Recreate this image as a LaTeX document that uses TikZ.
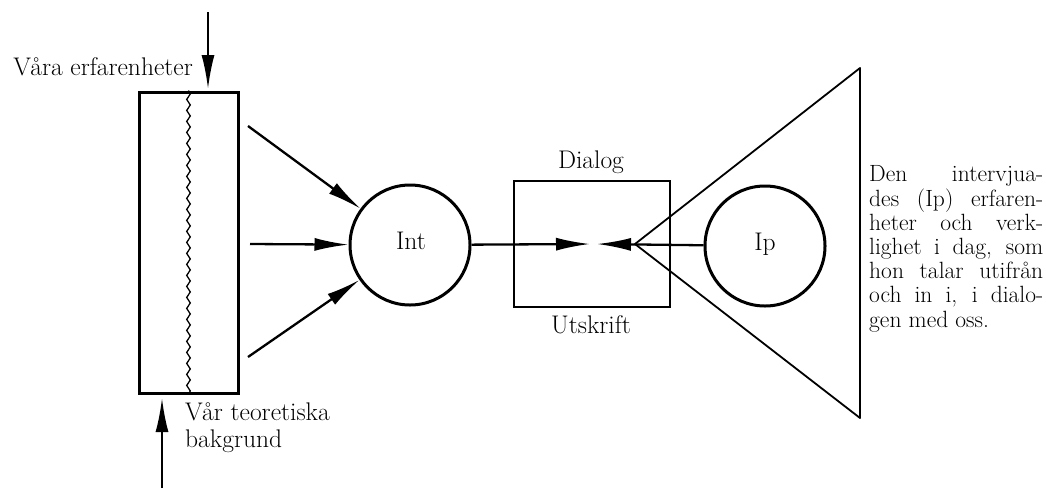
\documentclass[tikz,border=0pt]{standalone}
\usepackage{fontspec}
\usetikzlibrary{arrows.meta,decorations.pathmorphing}
\newcommand{\lblfont}{\fontsize{25.5}{27}\selectfont}
\newcommand{\txtfont}{\fontsize{23.5}{24.2}\selectfont}
\begin{document}
\begin{tikzpicture}[x=1pt,y=-1pt,
  lbl/.style={font=\lblfont, inner sep=0pt},
  heavy/.style={line width=3pt},
  arr/.style={line width=2.3pt,-{Latex[length=34pt,width=13pt]}},
  circ/.style={circle,draw,line width=3pt,minimum size=120pt,inner sep=0pt},
]
\useasboundingbox (0,0) rectangle (1046,488);
% left box
\node[draw,heavy,minimum width=99pt,minimum height=301pt,inner sep=0pt] (lb) at (188.5,242.5) {};
\draw[line width=1.3pt,decorate,decoration={snake,segment length=11pt,amplitude=1.8pt}] (lb.north) -- (lb.south);
% top and bottom arrows
\coordinate (ta) at (208,12);
\coordinate (tb) at (208,89);
\draw[arr] (ta) -- (tb);
\coordinate (ba) at (162,488);
\coordinate (bb) at (162,398);
\draw[arr] (ba) -- (bb);
\node[lbl,anchor=base east] (ve) at (193,75) {Våra erfarenheter};
\node[lbl,anchor=base west] (vt1) at (185,420) {Vår teoretiska};
\node[lbl,anchor=base west] (vt2) at (185,447) {bakgrund};
% Int
\node[circ] (int) at (410,245) {};
\node[lbl,anchor=base] (intl) at (411,249) {Int};
\coordinate (a1) at (248,126);
\coordinate (a2) at (250,244);
\coordinate (a3) at (248,357);
\draw[arr] (a1) -- (int);
\draw[arr] (a2) -- (int);
\draw[arr] (a3) -- (int);
% dialog box
\node[draw,line width=2.8pt,minimum width=156pt,minimum height=126pt,inner sep=0pt] (db) at (592,244) {};
\node[lbl,anchor=base] (dl) at (591,168) {Dialog};
\node[lbl,anchor=base] (ut) at (591,333) {Utskrift};
\coordinate (tl) at (590,244);
\coordinate (tr) at (597,244);
\draw[arr] (int) -- (tl);
% triangle
\coordinate (ap) at (635,244);
\coordinate (t1) at (860,68);
\coordinate (t2) at (860,418);
\draw[line width=1.8pt,line join=round] (ap) -- (t1) -- (t2) -- cycle;
% Ip
\node[circ] (ip) at (765,246) {};
\node[lbl,anchor=base] (ipl) at (765,250) {Ip};
\draw[arr] (ip) -- (tr);
% right text
\node[inner sep=0pt,anchor=base west,align=left,font=\txtfont] (rt) at (869,327) {%
\makebox[174pt][s]{Den intervjua-}\\
\makebox[174pt][s]{des (Ip) erfaren-}\\
\makebox[174pt][s]{heter och verk-}\\
\makebox[174pt][s]{lighet i dag, som}\\
\makebox[174pt][s]{hon talar utifrån}\\
\makebox[174pt][s]{och in i, i dialo-}\\
gen med oss.};
\end{tikzpicture}
\end{document}
